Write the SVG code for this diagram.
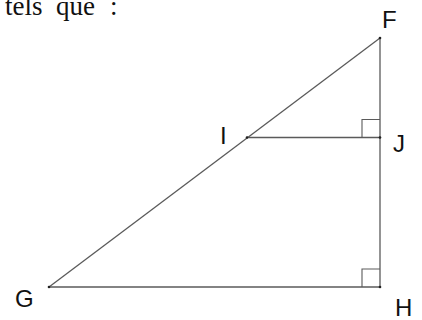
<svg xmlns="http://www.w3.org/2000/svg" width="422" height="320" viewBox="0 0 422 320">
<style>
.ln{stroke:#5a5a5a;stroke-width:1.3;fill:none}
.mk{stroke:#5a5a5a;stroke-width:1.1;fill:none}
.pt{fill:#222}
.lb{font-family:"Liberation Sans",Arial,sans-serif;font-size:24px;fill:#111}
.tx{font-family:"Liberation Serif","Times New Roman",serif;font-size:27px;fill:#111}
</style>
<rect width="422" height="320" fill="#fff"/>
<text class="tx" x="5" y="15">tels</text>
<text class="tx" x="56" y="15">que</text>
<text class="tx" x="110" y="15">:</text>
<g id="lines">
<line class="ln" x1="49" y1="287" x2="380" y2="38"/>
<line class="ln" x1="380" y1="38" x2="380" y2="287"/>
<line class="ln" x1="49" y1="287" x2="380" y2="287"/>
<line class="ln" x1="247" y1="137.5" x2="380" y2="137.5"/>
<polyline class="mk" points="362,137.5 362,119.5 380,119.5"/>
<polyline class="mk" points="362,287 362,269 380,269"/>
</g>
<g id="F"><circle class="pt" cx="380" cy="38" r="1.3"/><text class="lb" x="382" y="28">F</text></g>
<g id="I"><circle class="pt" cx="247" cy="137.5" r="1.3"/><text class="lb" x="220" y="144">I</text></g>
<g id="J"><circle class="pt" cx="380" cy="137.5" r="1.3"/><text class="lb" x="393" y="152">J</text></g>
<g id="G"><circle class="pt" cx="49" cy="287" r="1.3"/><text class="lb" x="15" y="307">G</text></g>
<g id="H"><circle class="pt" cx="380" cy="287" r="1.3"/><text class="lb" x="395" y="316">H</text></g>
</svg>
